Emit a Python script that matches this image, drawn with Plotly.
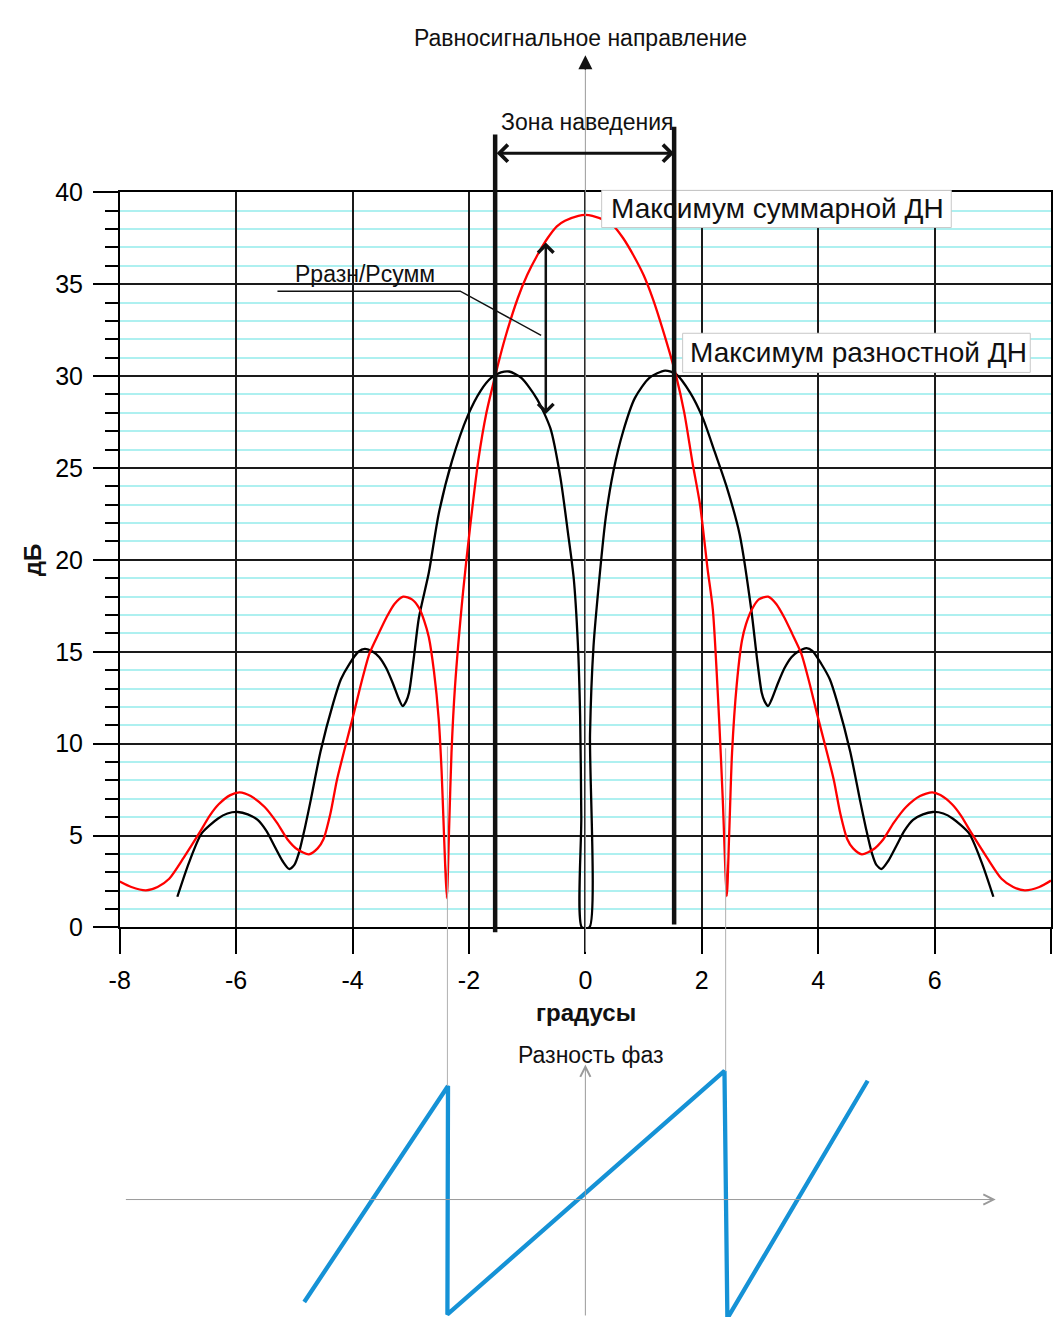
import plotly.graph_objects as go

PAGE_W, PAGE_H = 1061, 1339
BODY_MARGIN = 8                      # browser default body margin
W, H = PAGE_W - 2 * BODY_MARGIN, PAGE_H - 2 * BODY_MARGIN

# ---------------- data ----------------
# sum pattern (red), dB vs degrees
sum_x = [-8.0, -7.8, -7.55, -7.35, -7.15, -6.9, -6.64, -6.45, -6.3, -6.1, -5.94, -5.75, -5.51, -5.3,
         -5.12, -4.95, -4.75, -4.6, -4.5, -4.38, -4.27, -4.12, -3.99, -3.85, -3.71, -3.55, -3.42,
         -3.28, -3.13, -2.98, -2.86, -2.77, -2.69, -2.6, -2.52, -2.47, -2.44, -2.41, -2.38, -2.34,
         -2.3, -2.24, -2.1, -1.98, -1.84, -1.7, -1.55, -1.39, -1.16, -1.0, -0.83, -0.65, -0.49,
         -0.35, -0.12, 0.0, 0.12, 0.35, 0.49, 0.65, 0.83, 1.0, 1.16, 1.39, 1.56, 1.7, 1.84, 1.97,
         2.1, 2.19, 2.3, 2.36, 2.43, 2.47,
         2.52, 2.6, 2.69, 2.76, 2.86, 2.98, 3.14, 3.28, 3.42, 3.55, 3.71, 3.85, 3.99, 4.12, 4.27,
         4.38, 4.5, 4.6, 4.75, 4.95, 5.12, 5.3, 5.51, 5.75, 5.96, 6.1, 6.3, 6.45, 6.64, 6.9, 7.15,
         7.35, 7.55, 7.8, 8.0]
sum_db = [2.5, 2.2, 2.02, 2.2, 2.65, 3.8, 5.1, 6.1, 6.7, 7.2, 7.35, 7.15, 6.55, 5.7,
          4.8, 4.25, 3.98, 4.3, 4.8, 6.2, 8.0, 9.9, 11.5, 13.3, 14.9, 16.0, 16.85,
          17.6, 18.0, 17.85, 17.4, 16.7, 15.8, 13.9, 11.35, 8.5, 6.0, 3.5, 1.6, 5.5,
          9.5, 13.1, 18.3, 21.8, 25.4, 28.0, 30.0, 31.95, 34.25, 35.5, 36.55, 37.5, 38.15,
          38.45, 38.72, 38.77, 38.72, 38.45, 38.15, 37.5, 36.55, 35.5, 34.2, 31.9, 30.0, 28.0, 25.3,
          23.0, 19.5, 17.3, 11.2, 7.0, 1.7, 5.0,
          9.5, 13.2, 15.6, 16.5, 17.3, 17.85, 18.0, 17.6, 16.85, 16.0, 14.9, 13.3, 11.5, 9.9, 8.0,
          6.2, 4.8, 4.3, 3.98, 4.25, 4.8, 5.7, 6.55, 7.15, 7.35, 7.2, 6.7, 6.1, 5.1, 3.8, 2.65,
          2.2, 2.02, 2.2, 2.55]

# difference pattern (black), dB vs degrees
diff_x = [-7.01, -6.81, -6.59, -6.31, -6.15, -5.97, -5.8, -5.63, -5.48, -5.34, -5.2, -5.09, -5.0,
          -4.92, -4.82, -4.72, -4.55, -4.33, -4.2, -4.05, -3.9, -3.79, -3.65, -3.54, -3.42, -3.31,
          -3.2, -3.14, -3.08, -3.03, -2.95, -2.86, -2.69, -2.52, -2.29, -2.02, -1.8, -1.62, -1.45,
          -1.31, -1.1, -0.83, -0.6, -0.43, -0.3, -0.2, -0.13, -0.09, -0.07, -0.06,
          0.07, 0.08, 0.14, 0.25, 0.35, 0.48, 0.65, 0.85, 1.1, 1.37, 1.56, 1.8, 2.02, 2.22, 2.42,
          2.65, 2.85, 2.95, 3.03, 3.08, 3.14, 3.2, 3.31, 3.42, 3.54, 3.65, 3.8, 3.9, 4.05, 4.2,
          4.33, 4.55, 4.72, 4.82, 4.92, 5.0, 5.09, 5.2, 5.34, 5.48, 5.63, 5.8, 5.97, 6.15, 6.31,
          6.59, 6.81, 7.01]
diff_db = [1.67, 3.53, 5.13, 5.93, 6.2, 6.28, 6.15, 5.85, 5.25, 4.42, 3.6, 3.18, 3.4,
           4.07, 5.4, 6.9, 9.57, 12.23, 13.5, 14.36, 15.0, 15.16, 15.0, 14.7, 14.1, 13.3,
           12.4, 12.05, 12.3, 12.77, 14.6, 16.85, 19.3, 22.5, 25.4, 27.85, 29.2, 29.9, 30.2,
           30.25, 29.9, 28.75, 27.15, 24.5, 21.5, 19.0, 15.5, 11.5, 6.0, 0.0,
           0.0, 10.5, 15.3, 19.3, 22.3, 24.8, 27.0, 28.8, 29.9, 30.3, 30.1, 29.1, 27.7, 25.9, 24.05,
           21.4, 17.3, 14.6, 12.77, 12.3, 12.05, 12.4, 13.3, 14.1, 14.7, 15.0, 15.2, 15.05, 14.36, 13.5,
           12.23, 9.57, 6.9, 5.4, 4.07, 3.4, 3.18, 3.6, 4.42, 5.25, 5.85, 6.15, 6.28, 6.2, 5.93,
           5.13, 3.53, 1.67]

# phase difference (blue sawtooth)
phase_x = [-4.83, -2.36, -2.37, 2.39, 2.44, 4.85]
phase_val = [-157, 174, -176, 197, -182, 182]

x_ticks = [-8, -6, -4, -2, 0, 2, 4, 6, 8]
x_tick_labels = ["-8", "-6", "-4", "-2", "0", "2", "4", "6", "8"]
y_ticks = [0, 5, 10, 15, 20, 25, 30, 35, 40]
y_tick_labels = ["0", "5", "10", "15", "20", "25", "30", "35", "40"]

ZONE_L, ZONE_R = -1.55, 1.525      # equal-signal zone edges, degrees
NULL_L, NULL_R = -2.37, 2.41       # sum-pattern nulls, degrees
RATIO_X, RATIO_TOP, RATIO_BOT = -0.68, 37.27, 27.85

# ---------------- helpers (page pixel -> paper fraction) ----------------
def PX(p):
    return min(1.0, max(0.0, (p - BODY_MARGIN) / W))


def PY(p):
    return min(1.0, max(0.0, 1 - (p - BODY_MARGIN) / H))


FONT = "Liberation Sans, Arial, sans-serif"

fig = go.Figure()
fig.add_trace(go.Scatter(x=diff_x, y=diff_db, mode="lines",
                         line=dict(color="black", width=2.3, shape="spline", smoothing=0.7),
                         xaxis="x", yaxis="y", hoverinfo="skip"))
fig.add_trace(go.Scatter(x=sum_x, y=sum_db, mode="lines",
                         line=dict(color="#ff0000", width=2.3, shape="spline", smoothing=0.7),
                         xaxis="x", yaxis="y", hoverinfo="skip"))
fig.add_trace(go.Scatter(x=phase_x, y=phase_val, mode="lines",
                         line=dict(color="#1592d6", width=4.3),
                         xaxis="x2", yaxis="y2", hoverinfo="skip"))

axis_common = dict(showline=True, linecolor="black", linewidth=1.5, mirror=True,
                   ticks="outside", ticklen=25, tickwidth=1.5, tickcolor="black",
                   showgrid=True, gridcolor="#1a1a1a", gridwidth=1.5, zeroline=False,
                   tickfont=dict(family=FONT, size=25, color="black"))

fig.update_layout(
    width=W, height=H, autosize=False, margin=dict(l=0, r=0, t=0, b=0),
    paper_bgcolor="white", plot_bgcolor="white", showlegend=False,
    xaxis=dict(domain=[PX(110), PX(1054)], range=[-8, 8], tickvals=x_ticks,
               ticktext=x_tick_labels, ticklabelstandoff=5, anchor="y", **axis_common),
    yaxis=dict(domain=[PY(933), PY(182)], range=[0, 40], tickvals=y_ticks,
               ticktext=y_tick_labels, ticklabelstandoff=5, anchor="x",
               minor=dict(dtick=1, tick0=0, ticks="outside", ticklen=13, tickwidth=1.5,
                          tickcolor="black", showgrid=True, gridcolor="#aef0f0", gridwidth=1.5),
               **axis_common),
    xaxis2=dict(domain=[PX(110), PX(1054)], range=[-8, 8], visible=False, anchor="y2"),
    yaxis2=dict(domain=[0, PY(1040)], range=[(1211 - 1331) * 1.5, (1211 - 1040) * 1.5],
                visible=False, anchor="x2"),
)

shapes = [
    # equal-signal direction (grey centre line)
    dict(type="line", xref="x", yref="paper", x0=0, x1=0, y0=PY(958), y1=PY(57),
         line=dict(color="#9a9a9a", width=1)),
    # guide lines from nulls down to phase plot
    dict(type="line", xref="x", yref="paper", x0=NULL_L, x1=NULL_L, y0=PY(748), y1=PY(1095),
         line=dict(color="#b0b0b0", width=1)),
    dict(type="line", xref="x", yref="paper", x0=NULL_R, x1=NULL_R, y0=PY(750), y1=PY(1080),
         line=dict(color="#b0b0b0", width=1)),
    # label boxes
    dict(type="rect", xref="paper", yref="paper", x0=PX(598), x1=PX(952), y0=PY(218), y1=PY(180),
         fillcolor="white", line=dict(color="#c8c8c8", width=1)),
    dict(type="rect", xref="paper", yref="paper", x0=PX(680), x1=PX(1032), y0=PY(366), y1=PY(326),
         fillcolor="white", line=dict(color="#c8c8c8", width=1)),
    # thick zone lines
    dict(type="line", xref="x", yref="paper", x0=ZONE_L, x1=ZONE_L, y0=PY(938), y1=PY(123),
         line=dict(color="#111111", width=4.5)),
    dict(type="line", xref="x", yref="paper", x0=ZONE_R, x1=ZONE_R, y0=PY(930), y1=PY(115),
         line=dict(color="#111111", width=4.5)),
    # leader line for Рразн/Рсумм
    dict(type="path", xref="x", yref="y", path="M -5.29,34.62 L -2.15,34.62 L -0.76,32.22",
         line=dict(color="#111111", width=1.5)),
]
fig.update_layout(shapes=shapes)

ann = []


def text(t, px, py, size, bold=False, angle=0):
    ann.append(dict(text=("<b>%s</b>" % t) if bold else t, x=PX(px), y=PY(py),
                    xref="paper", yref="paper", showarrow=False, textangle=angle,
                    xanchor="center", yanchor="middle",
                    font=dict(family=FONT, size=size, color="#111111")))


text("Равносигнальное направление", 577, 24, 23)
text("Зона наведения", 584, 110, 23)
text("Рразн/Рсумм", 358, 265, 23)
text("Максимум суммарной ДН", 776, 199, 28)
text("Максимум разностной ДН", 858, 346, 28)
text("дБ", 22, 558, 24, bold=True, angle=-90)
text("градусы", 582, 1020, 24, bold=True)
text("Разность фаз", 587, 1063, 23)

# arrowhead on the equal-signal direction
ann.append(dict(text="", x=0, y=PY(42), xref="x", yref="paper", showarrow=True,
                axref="pixel", ayref="pixel", ax=0, ay=16, arrowhead=2, arrowsize=2.0,
                arrowwidth=1.4, arrowcolor="#111111"))
# zone double arrow
ann.append(dict(text="", x=ZONE_R, y=PY(142), xref="x", yref="paper", showarrow=True,
                axref="x", ax=ZONE_L, ayref="pixel", ay=0, arrowside="end+start",
                arrowhead=4, startarrowhead=4, arrowsize=1.1, startarrowsize=1.1,
                arrowwidth=3, arrowcolor="#111111"))
# ratio double arrow
ann.append(dict(text="", x=RATIO_X, y=RATIO_TOP, xref="x", yref="y", showarrow=True,
                axref="x", ax=RATIO_X, ayref="y", ay=RATIO_BOT, arrowside="end+start",
                arrowhead=4, startarrowhead=4, arrowsize=1.2, startarrowsize=1.2,
                arrowwidth=2.5, arrowcolor="#111111"))
# phase plot axes
ann.append(dict(text="", x=7.05, y=0, xref="x2", yref="y2", showarrow=True,
                axref="x2", ax=-7.92, ayref="y2", ay=0, arrowhead=5, arrowsize=2,
                arrowwidth=1, arrowcolor="#9a9a9a"))
ann.append(dict(text="", x=0, y=(1211 - 1073) * 1.5, xref="x2", yref="y2", showarrow=True,
                axref="x2", ax=0, ayref="y2", ay=(1211 - 1331) * 1.5, arrowhead=5, arrowsize=2,
                arrowwidth=1, arrowcolor="#9a9a9a"))
fig.update_layout(annotations=ann)

fig.write_html("out.html", config={"displayModeBar": False})
